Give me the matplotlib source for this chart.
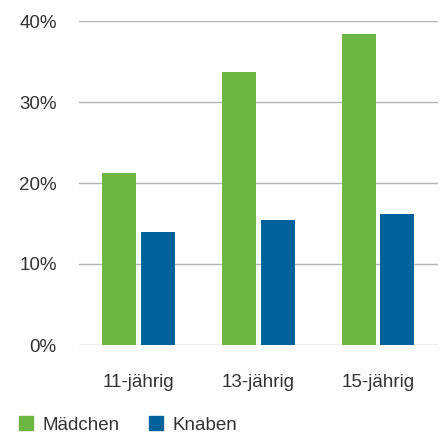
import matplotlib
matplotlib.use("Agg")
import matplotlib.pyplot as plt
import numpy as np
from matplotlib.patches import Patch

categories = ["11-jährig", "13-jährig", "15-jährig"]
maedchen = [21.2, 33.7, 38.4]
knaben = [14.0, 15.4, 16.2]
yticks = [0, 10, 20, 30, 40]
series_names = ["Mädchen", "Knaben"]

green = "#6db644"
blue = "#00629b"
text_color = "#333333"

plt.rcParams["font.family"] = ["Liberation Sans", "DejaVu Sans"]

fig = plt.figure(figsize=(4.43, 4.36), dpi=100)
ax = fig.add_axes([79 / 443, 1 - 345 / 436, (437.7 - 79) / 443, (345 - 21) / 436])

x = np.arange(len(categories))
w = 0.285
off = 0.162
ax.bar(x - off, maedchen, width=w, color=green, zorder=3)
ax.bar(x + off, knaben, width=w, color=blue, zorder=3)

ax.set_xlim(-0.5, 2.5)
ax.set_ylim(0, 40)
ax.set_yticks(yticks)
ax.set_yticklabels([f"{v}%" for v in yticks])
ax.set_xticks(x)
ax.set_xticklabels(categories)

for s in ax.spines.values():
    s.set_visible(False)
ax.grid(axis="y", color="#b5b5b5", linewidth=1.0, zorder=0)
ax.tick_params(axis="both", length=0, labelsize=13.5, colors=text_color)
ax.tick_params(axis="y", pad=16)
ax.tick_params(axis="x", pad=21)

handles = [Patch(color=green, label=series_names[0]), Patch(color=blue, label=series_names[1])]
fig.legend(handles=handles, loc="lower left", bbox_to_anchor=(0.005, -0.033), ncol=2,
           frameon=False, fontsize=13.5, handlelength=0.75, handleheight=0.75,
           handletextpad=0.48, columnspacing=1.6, labelcolor=text_color)

fig.savefig("out.png", dpi=100)
